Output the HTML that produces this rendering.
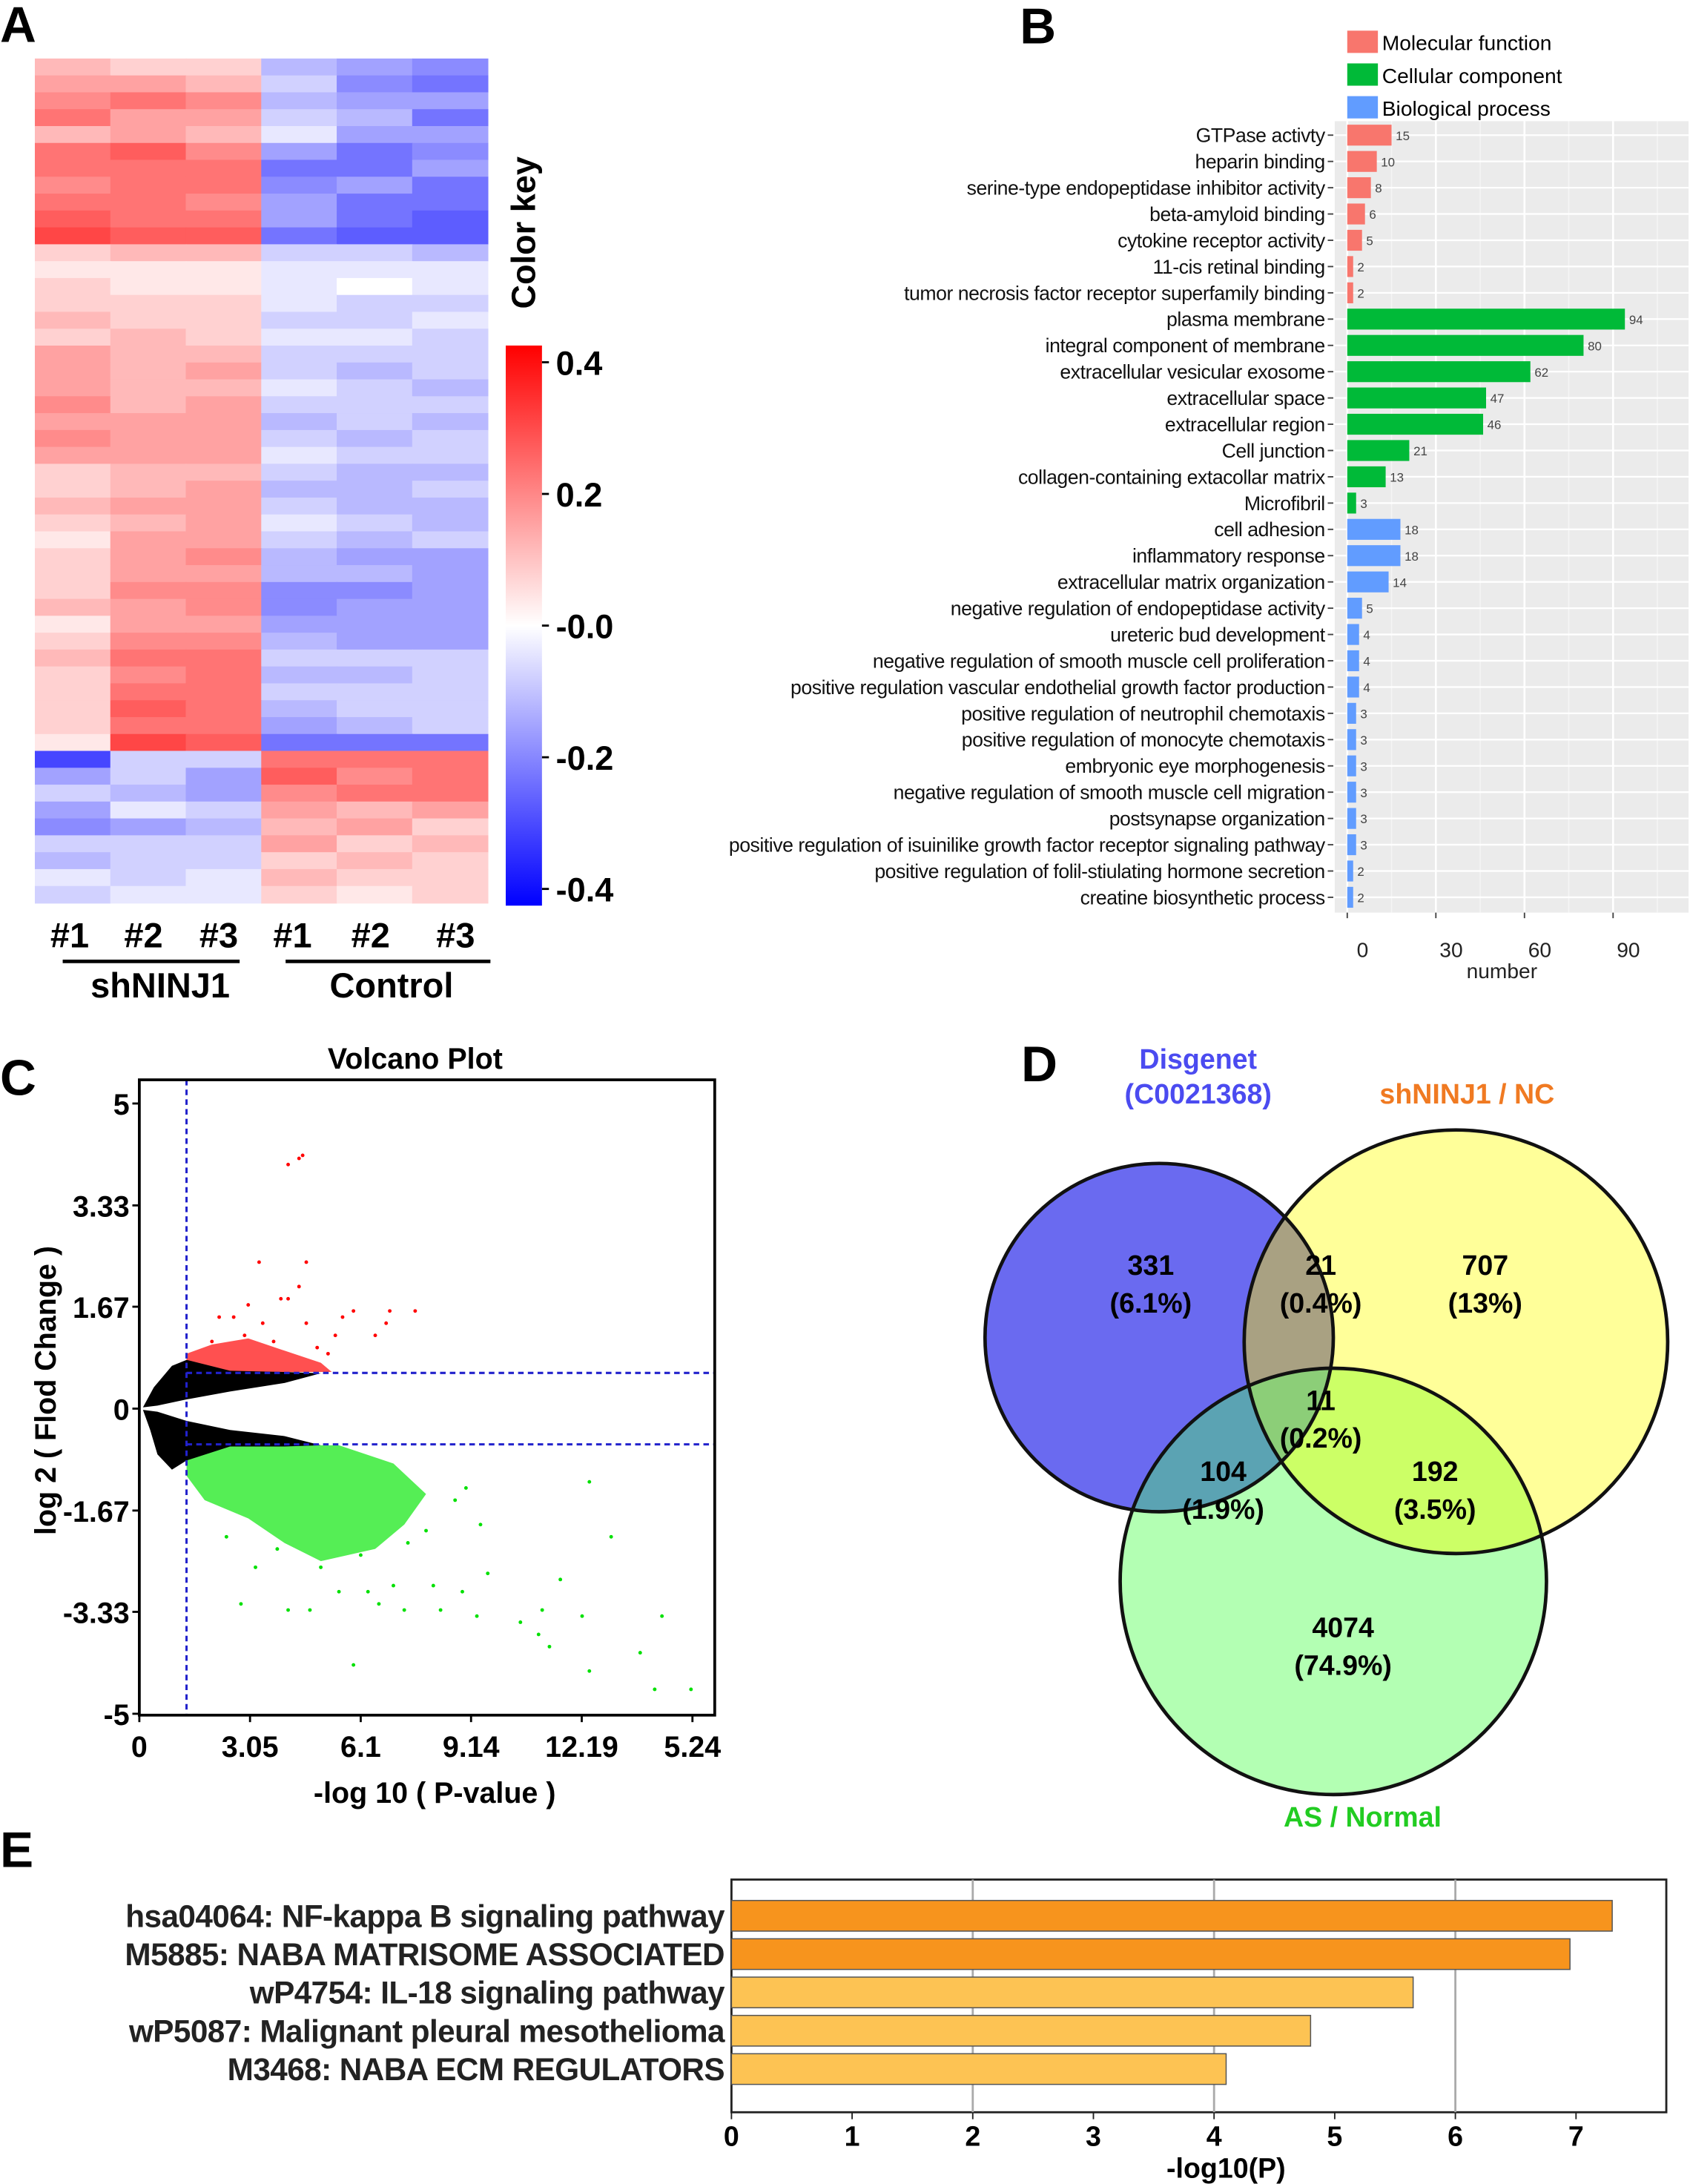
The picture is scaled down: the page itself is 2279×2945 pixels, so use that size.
<!DOCTYPE html>
<html><head><meta charset="utf-8"><style>
html,body{margin:0;padding:0;background:#fff}
svg{display:block}
text{font-family:"Liberation Sans",Arial,sans-serif}
</style></head><body>
<svg id="fig" xmlns="http://www.w3.org/2000/svg" width="2279" height="2945" viewBox="0 0 1213 1567.5">
<rect width="1213" height="1568" fill="#fff"/>
<g font-weight="bold" font-size="36">
<text x="0" y="30">A</text><text x="732" y="31">B</text><text x="0" y="786">C</text><text x="733" y="776">D</text><text x="0" y="1340">E</text>
</g>
<g id="pA"></g>
<g id="pB"></g>
<g id="pC"></g>
<g id="pD"></g>
<g id="pE"></g>
</svg>
<script>
const NS="http://www.w3.org/2000/svg";
function el(p,t,a,txt){const e=document.createElementNS(NS,t);for(const k in a)e.setAttribute(k,a[k]);if(txt!==undefined)e.textContent=txt;p.appendChild(e);return e;}

// ---------- Panel A data ----------
const heatCols=["#1","#2","#3","#1","#2","#3"];
const heatRows=[
[.15,.1,.1,-.15,-.2,-.25],[.2,.2,.15,-.1,-.25,-.3],[.25,.3,.25,-.15,-.2,-.2],[.3,.2,.2,-.1,-.15,-.3],
[.15,.2,.15,-.05,-.2,-.2],[.3,.35,.25,-.2,-.3,-.25],[.3,.3,.3,-.3,-.3,-.2],[.25,.3,.3,-.25,-.2,-.3],
[.3,.3,.25,-.2,-.3,-.3],[.35,.3,.3,-.2,-.3,-.35],[.4,.35,.35,-.3,-.35,-.35],[.1,.15,.15,-.1,-.1,-.15],
[.05,.05,.05,-.05,-.05,-.05],[.1,.05,.05,-.05,0,-.05],[.1,.1,.1,-.05,-.1,-.1],[.15,.1,.1,-.1,-.1,-.05],
[.1,.15,.1,-.05,-.05,-.1],[.2,.15,.15,-.1,-.1,-.1],[.2,.15,.2,-.1,-.15,-.1],[.2,.15,.15,-.05,-.1,-.15],
[.25,.15,.2,-.1,-.1,-.1],[.2,.2,.2,-.15,-.1,-.15],[.25,.2,.2,-.1,-.15,-.1],[.2,.2,.2,-.05,-.1,-.1],
[.1,.15,.15,-.1,-.15,-.15],[.1,.15,.2,-.15,-.15,-.1],[.15,.2,.2,-.1,-.15,-.15],[.1,.15,.2,-.05,-.1,-.15],
[.05,.2,.2,-.1,-.15,-.1],[.1,.2,.25,-.15,-.2,-.2],[.1,.2,.2,-.15,-.15,-.2],[.1,.25,.25,-.25,-.25,-.2],
[.15,.2,.25,-.25,-.2,-.2],[.05,.2,.2,-.2,-.2,-.2],[.1,.25,.25,-.15,-.2,-.2],[.15,.3,.3,-.1,-.1,-.1],
[.1,.25,.3,-.15,-.15,-.1],[.1,.3,.3,-.1,-.1,-.1],[.1,.35,.3,-.15,-.1,-.1],[.1,.3,.3,-.2,-.15,-.1],
[.05,.4,.35,-.3,-.3,-.3],[-.4,-.1,-.1,.3,.3,.3],[-.2,-.1,-.2,.35,.25,.3],[-.1,-.15,-.2,.25,.3,.3],
[-.2,-.05,-.1,.2,.15,.2],[-.25,-.2,-.15,.15,.2,.1],[-.1,-.1,-.1,.2,.1,.15],[-.15,-.1,-.1,.1,.15,.1],
[-.05,-.1,-.05,.15,.1,.1],[-.1,-.05,-.05,.1,.05,.1]];
const keyTicks=[0.4,0.2,-0.0,-0.2,-0.4];
const keyLabels=["0.4","0.2","-0.0","-0.2","-0.4"];

function heatColor(v){const t=Math.max(-1,Math.min(1,v/0.55));
 if(t>=0){const g=Math.round(255*(1-t));return `rgb(255,${g},${g})`;}
 const g=Math.round(255*(1+t));return `rgb(${g},${g},255)`;}
(function(){
 const g=document.getElementById('pA');
 const x0=25,x1=350,y0=42,y1=648;
 const cw=(x1-x0)/heatCols.length, rh=(y1-y0)/heatRows.length;
 heatRows.forEach((row,i)=>row.forEach((v,j)=>{
  const r=el(g,'rect',{x:x0+j*cw,y:y0+i*rh,width:cw+0.5,height:rh+0.5,fill:heatColor(v)});
  
  
 }));
 const colX=[50,103,157,210,266,327];
 heatCols.forEach((c,j)=>{const t=el(g,'text',{x:colX[j],y:680,'text-anchor':'middle','font-size':25,'font-weight':'bold'},c);
  });
 el(g,'line',{x1:45,x2:172,y1:690,y2:690,stroke:'#000','stroke-width':2.5});
 el(g,'line',{x1:205,x2:352,y1:690,y2:690,stroke:'#000','stroke-width':2.5});
 const s=el(g,'text',{x:115,y:716,'text-anchor':'middle','font-size':25,'font-weight':'bold'},'shNINJ1');
 
 const c=el(g,'text',{x:281,y:716,'text-anchor':'middle','font-size':25,'font-weight':'bold'},'Control');
 
 const ky0=248,ky1=650,kx=363,kw=26;
 const defs=el(g,'defs',{});const lg=el(defs,'linearGradient',{id:'kg',x1:0,y1:0,x2:0,y2:1});
 el(lg,'stop',{offset:'0',"stop-color":'#ff0000'});el(lg,'stop',{offset:'0.5',"stop-color":'#ffffff'});el(lg,'stop',{offset:'1',"stop-color":'#0000ff'});
 const kr=el(g,'rect',{x:kx,y:ky0,width:kw,height:ky1-ky0,fill:'url(#kg)'});
 
 const ky=v=>ky0+12+(0.4-v)/0.8*(ky1-ky0-24);
 keyTicks.forEach((v,i)=>{el(g,'line',{x1:kx+kw,x2:kx+kw+5,y1:ky(v),y2:ky(v),stroke:'#000','stroke-width':1.5});
  const t=el(g,'text',{x:kx+kw+10,y:ky(v)+9,'font-size':24,'font-weight':'bold'},keyLabels[i]);
  });
 const ck=el(g,'text',{x:0,y:0,'font-size':24,'font-weight':'bold','text-anchor':'middle',transform:'translate(384,167) rotate(-90)'},'Color key');
 
})();

// ---------- Panel B data ----------
const goTerms=["GTPase activty","heparin binding","serine-type endopeptidase inhibitor activity","beta-amyloid binding","cytokine receptor activity","11-cis retinal binding","tumor necrosis factor receptor superfamily binding","plasma membrane","integral component of membrane","extracellular vesicular exosome","extracellular space","extracellular region","Cell junction","collagen-containing extacollar matrix","Microfibril","cell adhesion","inflammatory response","extracellular matrix organization","negative regulation of endopeptidase activity","ureteric bud development","negative regulation of smooth muscle cell proliferation","positive regulation vascular endothelial growth factor production","positive regulation of neutrophil chemotaxis","positive regulation of monocyte chemotaxis","embryonic eye morphogenesis","negative regulation of smooth muscle cell migration","postsynapse organization","positive regulation of isuinilike growth factor receptor signaling pathway","positive regulation of folil-stiulating hormone secretion","creatine biosynthetic process"];
const goCounts=[15,10,8,6,5,2,2,94,80,62,47,46,21,13,3,18,18,14,5,4,4,4,3,3,3,3,3,3,2,2];
const goCategory=["MF","MF","MF","MF","MF","MF","MF","CC","CC","CC","CC","CC","CC","CC","CC","BP","BP","BP","BP","BP","BP","BP","BP","BP","BP","BP","BP","BP","BP","BP"];
const goTicks=[0,30,60,90];
const catNames={MF:"Molecular function",CC:"Cellular component",BP:"Biological process"};
(function(){
 const g=document.getElementById('pB');
 const col={MF:'#f8766d',CC:'#00ba38',BP:'#619cff'};
 const px0=958,px1=1212,py0=87,py1=655;
 const x=v=>967+v*2.12;
 const step=(644-97)/(goTerms.length-1);
 const y=i=>97+i*step;
 el(g,'rect',{x:px0,y:py0,width:px1-px0,height:py1-py0,fill:'#ebebeb'});
 for(let v=15;v<=105;v+=30)el(g,'line',{x1:x(v),x2:x(v),y1:py0,y2:py1,stroke:'#f5f5f5','stroke-width':0.8});
 goTicks.forEach(v=>el(g,'line',{x1:x(v),x2:x(v),y1:py0,y2:py1,stroke:'#fff','stroke-width':1.4}));
 goTerms.forEach((t,i)=>el(g,'line',{x1:px0,x2:px1,y1:y(i),y2:y(i),stroke:'#fff','stroke-width':1.2}));
 goTerms.forEach((t,i)=>{
  const b=el(g,'rect',{x:x(0),y:y(i)-7.5,width:x(goCounts[i])-x(0),height:15,fill:col[goCategory[i]]});
  
  const v=el(g,'text',{x:x(goCounts[i])+3,y:y(i)+3.5,'font-size':9,fill:'#444'},goCounts[i]);
  
  const l=el(g,'text',{x:951,y:y(i)+5,'font-size':14.2,'text-anchor':'end',fill:'#111','letter-spacing':'-0.25'},t);
  
  el(g,'line',{x1:953,x2:957,y1:y(i),y2:y(i),stroke:'#444'});
 });
 goTicks.forEach(v=>{el(g,'line',{x1:x(v),x2:x(v),y1:py1,y2:py1+4,stroke:'#444'});
  const t=el(g,'text',{x:x(v)+11,y:687,'font-size':15,'text-anchor':'middle',fill:'#222'},v);
  });
 const at=el(g,'text',{x:1078,y:702,'font-size':15,'text-anchor':'middle',fill:'#222'},'number');
 
 ["MF","CC","BP"].forEach((k,i)=>{
  const r=el(g,'rect',{x:967,y:22+i*23.5,width:22,height:16,fill:col[k]});
  
  const t=el(g,'text',{x:992,y:36+i*23.5,'font-size':15},catNames[k]);
  
 });
})();

// ---------- Panel C data ----------
const volXTicks=[0,3.05,6.1,9.14,12.19,15.24];
const volXLabels=["0","3.05","6.1","9.14","12.19","5.24"];
const volYTicks=[5,3.33,1.67,0,-1.67,-3.33,-5];
const volYLabels=["5","3.33","1.67","0","-1.67","-3.33","-5"];
const pThreshold=1.3;
const fcThreshold=0.585;
const redPoints=[[4.1,4.0],[4.4,4.1],[4.5,4.15],[3.3,2.4],[4.6,2.4],[4.4,2.0],[3.9,1.8],[4.1,1.8],[3.0,1.7],[2.6,1.5],[5.6,1.5],[5.9,1.6],[6.9,1.6],[7.6,1.6],[6.8,1.4],[6.5,1.2],[5.4,1.2],[5.2,0.9],[2.2,1.5],[3.4,1.4],[4.6,1.4],[2.9,1.2],[3.7,1.1],[2.0,1.1],[4.9,1.0]];
const greenPoints=[[2.8,-3.2],[4.1,-3.3],[4.7,-3.3],[5.9,-4.2],[6.3,-3.0],[6.6,-3.2],[7.3,-3.3],[7.0,-2.9],[8.1,-2.9],[8.3,-3.3],[8.9,-3.0],[9.3,-3.4],[9.6,-2.7],[9.4,-1.9],[9.0,-1.3],[10.5,-3.5],[11.1,-3.3],[11.0,-3.7],[11.3,-3.9],[11.6,-2.8],[12.2,-3.4],[12.4,-4.3],[13.0,-2.1],[12.4,-1.2],[13.8,-4.0],[14.2,-4.6],[14.4,-3.4],[15.2,-4.6],[8.7,-1.5],[7.9,-2.0],[5.5,-3.0],[3.2,-2.6],[6.1,-2.4],[7.4,-2.2],[5.0,-2.6],[3.8,-2.3],[2.4,-2.1]];
const blackUpper=[[0.1,0.02],[0.4,0.35],[0.9,0.7],[1.3,0.8],[2.5,0.62],[4.0,0.6],[5.0,0.58],[4.0,0.42],[2.5,0.28],[1.3,0.15],[0.5,0.05]];
const blackLower=[[0.1,-0.02],[0.5,-0.05],[1.3,-0.2],[2.5,-0.35],[4.0,-0.45],[5.0,-0.6],[4.0,-0.62],[2.5,-0.62],[1.3,-0.85],[0.9,-1.0],[0.5,-0.75],[0.3,-0.35]];
const redCloud=[[1.3,0.6],[5.3,0.6],[5.0,0.75],[4.0,0.95],[3.0,1.15],[2.0,1.05],[1.3,0.9]];
const greenCloud=[[1.3,-0.6],[5.5,-0.6],[7.0,-0.9],[7.9,-1.4],[7.3,-1.9],[6.5,-2.3],[5.0,-2.5],[4.0,-2.2],[3.0,-1.8],[1.8,-1.5],[1.3,-1.1]];
(function(){
 const g=document.getElementById('pC');
 const x=v=>100+v*26.05, y=v=>1011-v*43.8;
 const L=100,R=513,T=775,B=1231;
 const tt=el(g,'text',{x:298,y:767,'font-size':21,'font-weight':'bold','text-anchor':'middle'},'Volcano Plot');
 
 const pts=a=>a.map(p=>x(p[0]).toFixed(1)+','+y(p[1]).toFixed(1)).join(' ');
 const c1=el(g,'polygon',{points:pts(greenCloud),fill:'#55ee55'});
 const c2=el(g,'polygon',{points:pts(redCloud),fill:'#ff5050'});
 const c3=el(g,'polygon',{points:pts(blackUpper),fill:'#000'});
 const c4=el(g,'polygon',{points:pts(blackLower),fill:'#000'});
 redPoints.forEach(p=>{const c=el(g,'circle',{cx:x(p[0]),cy:y(p[1]),r:1.3,fill:'#ff0000'});});
 greenPoints.forEach(p=>{const c=el(g,'circle',{cx:x(p[0]),cy:y(p[1]),r:1.3,fill:'#00e000'});});
 const ds={stroke:'#2222cc','stroke-width':1.6,'stroke-dasharray':'4,3'};
 el(g,'line',Object.assign({x1:x(pThreshold),x2:x(pThreshold),y1:T,y2:B},ds));
 el(g,'line',Object.assign({x1:x(pThreshold),x2:R,y1:y(fcThreshold),y2:y(fcThreshold)},ds));
 el(g,'line',Object.assign({x1:x(pThreshold),x2:R,y1:y(-fcThreshold),y2:y(-fcThreshold)},ds));
 const fr=el(g,'rect',{x:L,y:T,width:R-L,height:B-T,fill:'none',stroke:'#000','stroke-width':2});
 
 volYTicks.forEach((v,i)=>{el(g,'line',{x1:L-5,x2:L,y1:y(v),y2:y(v),stroke:'#000','stroke-width':1.5});
  const t=el(g,'text',{x:L-7,y:y(v)+8,'font-size':21,'font-weight':'bold','text-anchor':'end'},volYLabels[i]);
  });
 volXTicks.forEach((v,i)=>{el(g,'line',{x1:x(v),x2:x(v),y1:B,y2:B+5,stroke:'#000','stroke-width':1.5});
  const t=el(g,'text',{x:x(v),y:B+30,'font-size':21,'font-weight':'bold','text-anchor':'middle'},volXLabels[i]);
  });
 const xa=el(g,'text',{x:312,y:1294,'font-size':21,'font-weight':'bold','text-anchor':'middle'},'-log 10 ( P-value )');
 
 const ya=el(g,'text',{x:0,y:0,'font-size':21,'font-weight':'bold','text-anchor':'middle',transform:'translate(40,998) rotate(-90)'},'log 2 ( Flod Change )');
 
})();

// ---------- Panel D ----------
const vennCounts=["331","21","707","11","104","192","4074"];
const vennPercents=["(6.1%)","(0.4%)","(13%)","(0.2%)","(1.9%)","(3.5%)","(74.9%)"];
(function(){
 const g=document.getElementById('pD');
 const A={cx:832,cy:960,r:125},Bc={cx:1045,cy:963,r:152},C={cx:957,cy:1135,r:153};
 const d=el(g,'defs',{});
 const ca=el(d,'clipPath',{id:'cA'});el(ca,'circle',A);
 const cb=el(d,'clipPath',{id:'cB'});el(cb,'circle',Bc);
 const ci=(c,f,n)=>{const e=el(g,'circle',Object.assign({fill:f},c));return e;};
 ci(A,'#6a6af0','disgenet-set');ci(Bc,'#ffff99','shninj1-set');ci(C,'#b3ffb3','as-normal-set');
 const gab=el(g,'g',{'clip-path':'url(#cA)'});el(gab,'circle',Object.assign({fill:'#a9a182'},Bc));
 const gac=el(g,'g',{'clip-path':'url(#cA)'});el(gac,'circle',Object.assign({fill:'#5ba3b3'},C));
 const gbc=el(g,'g',{'clip-path':'url(#cB)'});el(gbc,'circle',Object.assign({fill:'#ccff66'},C));
 const gabc=el(g,'g',{'clip-path':'url(#cA)'});const g2=el(gabc,'g',{'clip-path':'url(#cB)'});el(g2,'circle',Object.assign({fill:'#8cce78'},C));
 [A,Bc,C].forEach(c=>el(g,'circle',Object.assign({fill:'none',stroke:'#111','stroke-width':2.5},c)));
 const pos=[[826,915],[948,915],[1066,915],[948,1012],[878,1063],[1030,1063],[964,1175]];
 pos.forEach((p,i)=>{
  const a=el(g,'text',{x:p[0],y:p[1],'font-size':20,'font-weight':'bold','text-anchor':'middle'},vennCounts[i]);
  
  const b=el(g,'text',{x:p[0],y:p[1]+27,'font-size':20,'font-weight':'bold','text-anchor':'middle'},vennPercents[i]);
  
 });
 const l1=el(g,'text',{x:860,y:767,'font-size':20,'font-weight':'bold','text-anchor':'middle',fill:'#4b4bf0'},'Disgenet');
 
 el(g,'text',{x:860,y:792,'font-size':20,'font-weight':'bold','text-anchor':'middle',fill:'#4b4bf0'},'(C0021368)');
 const l2=el(g,'text',{x:1053,y:792,'font-size':20,'font-weight':'bold','text-anchor':'middle',fill:'#f07a22'},'shNINJ1 / NC');
 
 const l3=el(g,'text',{x:978,y:1311,'font-size':20,'font-weight':'bold','text-anchor':'middle',fill:'#22cc22'},'AS / Normal');
 
})();

// ---------- Panel E data ----------
const pathNames=["hsa04064: NF-kappa B signaling pathway","M5885: NABA MATRISOME ASSOCIATED","wP4754: IL-18 signaling pathway","wP5087: Malignant pleural mesothelioma","M3468: NABA ECM REGULATORS"];
const pathValues=[7.3,6.95,5.65,4.8,4.1];
const pathTicks=[0,1,2,3,4,5,6,7];
(function(){
 const g=document.getElementById('pE');
 const L=525,R=1196,T=1349,B=1516;
 const x=v=>L+v*86.6;
 el(g,'rect',{x:L,y:T,width:R-L,height:B-T,fill:'#fff',stroke:'#222','stroke-width':1.5});
 [2,4,6].forEach(v=>el(g,'line',{x1:x(v),x2:x(v),y1:T,y2:B,stroke:'#aaa','stroke-width':1.5}));
 pathNames.forEach((n,i)=>{
  const cy=1375+i*27.5;
  const b=el(g,'rect',{x:L,y:cy-11,width:x(pathValues[i])-L,height:22,fill:i<2?'#f7941d':'#fdc353',stroke:'#555','stroke-width':0.8});
  
  const t=el(g,'text',{x:520,y:cy+8,'font-size':22.5,'font-weight':'bold','text-anchor':'end',fill:'#222','letter-spacing':'-0.3'},n);
  
 });
 pathTicks.forEach(v=>{el(g,'line',{x1:x(v),x2:x(v),y1:B,y2:B+5,stroke:'#222'});
  const t=el(g,'text',{x:x(v),y:1540,'font-size':20,'font-weight':'bold','text-anchor':'middle'},v);
  });
 const a=el(g,'text',{x:880,y:1563,'font-size':20,'font-weight':'bold','text-anchor':'middle'},'-log10(P)');
 
})();
</script>
</body></html>
